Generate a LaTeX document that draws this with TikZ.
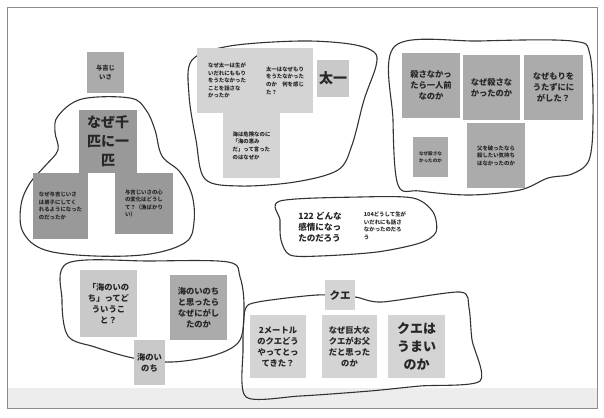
\documentclass[tikz,border=0pt]{standalone}
\usepackage{fontspec}
\setmainfont{Noto Sans CJK JP}
\begin{document}
\begin{tikzpicture}[x=1pt,y=-1pt,
  card/.style={inner sep=1pt, align=center, text=black!85, font=\bfseries},
  cardL/.style={card, align=left},
  blob/.style={draw=black!80, line width=1.1pt, line join=round},
  gDark/.style={fill=black!40},
  gMid/.style={fill=black!33},
  gLight/.style={fill=black!21},
  gPale/.style={fill=black!17},
  fBig/.append style={font=\bfseries\fontsize{14}{19}\selectfont},
  fMed/.append style={font=\bfseries\fontsize{8.3}{11}\selectfont},
  fSm/.append style={font=\bfseries\fontsize{5.4}{7.6}\selectfont},
  fTiny/.append style={font=\bfseries\fontsize{4.6}{6.4}\selectfont}
]
\useasboundingbox (0,0) rectangle (604,417);
\fill[white] (0,0) rectangle (604,417);
% screen frame
\fill[black!7] (7,388) rectangle (597,408);
\draw[black!45, line width=0.8pt] (7,7) rectangle (597,408);

% ---- blobs ----
\draw[blob] plot[smooth cycle, tension=0.6] coordinates {
  (58,116) (82,99) (130,98) (146,110) (155,130) (162,156) (180,172)
  (192,195) (194,222) (186,242) (150,254) (95,256) (45,250) (23,232)
  (21,205) (30,183) (45,166) (58,150) (55,132)};
\draw[blob] plot[smooth cycle, tension=0.55] coordinates {
  (192,60) (230,46) (300,41) (350,44) (374,52) (376,66) (364,100)
  (352,145) (338,170) (295,182) (240,186) (205,179) (196,140) (189,95)};
\draw[blob] plot[smooth cycle, tension=0.55] coordinates {
  (395,46) (480,41) (572,41) (590,55) (593,120) (589,160) (572,174)
  (548,178) (520,190) (470,195) (420,191) (398,185) (393,120)};
\draw[blob] plot[smooth cycle, tension=0.5] coordinates {
  (280,201) (360,197) (413,198) (433,212) (436,232) (420,243)
  (377,252) (320,256) (290,255) (281,240) (280,220)};
\draw[blob] plot[smooth cycle, tension=0.55] coordinates {
  (68,263) (150,261) (228,262) (240,277) (244,305) (240,340)
  (215,355) (172,362) (133,358) (95,347) (68,336) (62,300)};
\draw[blob] plot[smooth cycle, tension=0.45] coordinates {
  (258,302) (317,295) (355,297) (382,302) (460,292) (469,308)
  (472,340) (480,381) (420,386) (370,391) (300,396) (246,397)
  (243,350) (245,310)};

% ---- left group ----
\node[card, gMid, fSm, font=\bfseries\fontsize{6.3}{8.5}\selectfont,
  minimum width=37pt, minimum height=41pt] (yokichi) at (105.5,72.5) {与吉じ\\いさ};
\node[card, gDark, fBig, minimum width=58pt, minimum height=63pt] (senbiki) at (108,141.5) {なぜ千\\匹に一\\匹};
\node[cardL, gDark, fSm, minimum width=55pt, minimum height=66pt] (deshi) at (60.5,206) {なぜ与吉じいさ\\は弟子にしてく\\れるようになった\\のだったか};
\node[cardL, gDark, fSm, minimum width=58pt, minimum height=61pt] (kokoro) at (144,203.5) {与吉じいさの心\\の変化はどうし\\て？（漁ばかり\\い）};

% ---- middle top group ----
\node[cardL, gPale, fSm, minimum width=60pt, minimum height=65pt] (why1) at (227,80.5) {なぜ太一は生が\\いだれにももり\\をうたなかった\\ことを話さな\\かったか};
\node[cardL, gPale, fSm, minimum width=56pt, minimum height=65pt] (why2) at (285,80.5) {太一はなぜもり\\をうたなかった\\のか　何を感じ\\た？};
\node[cardL, gPale, fSm, minimum width=57pt, minimum height=65pt] (umi0) at (251.5,145.5) {海は危険なのに\\「海の恵み\\だ」って言った\\のはなぜか};
\node[card, gLight, fBig, minimum width=32pt, minimum height=37pt] (taichi) at (333,78.5) {太一};

% ---- right group ----
\node[card, gMid, fMed, minimum width=58pt, minimum height=65pt] (kor1) at (431,85.5) {殺さなかっ\\たら一人前\\なのか};
\node[card, gMid, fMed, minimum width=57pt, minimum height=65pt] (kor2) at (491.5,87.5) {なぜ殺さな\\かったのか};
\node[card, gMid, fMed, minimum width=59pt, minimum height=65pt] (mori) at (553.5,87.5) {なぜもりを\\うたずにに\\がした？};
\node[card, gMid, fTiny, minimum width=35pt, minimum height=40pt] (kor3) at (430.5,157) {なぜ殺さな\\かったのか};
\node[card, gMid, fSm, minimum width=58pt, minimum height=65pt] (chichi) at (496,155.5) {父を破ったなら\\殺したい気持ち\\はなかったのか};

% ---- middle blob texts ----
\node[cardL, font=\bfseries\fontsize{8.6}{11.2}\selectfont] (t122) at (320,227) {122 どんな\\感情になっ\\たのだろう};
\node[cardL, fSm] (t104) at (385,226) {104どうして生が\\いだれにも話さ\\なかったのだろ\\う};

% ---- bottom left group ----
\node[card, gLight, fMed, minimum width=57pt, minimum height=67pt] (umi1) at (108.5,303.5) {「海のいの\\ち」ってど\\ういうこ\\と？};
\node[card, gMid, fMed, minimum width=57pt, minimum height=65pt] (umi2) at (198.5,307.5) {海のいのち\\と思ったら\\なぜにがし\\たのか};
\node[card, gLight, fMed, minimum width=31pt, minimum height=45pt] (umi3) at (149.5,362.5) {海のい\\のち};

% ---- bottom right group ----
\node[card, gPale, font=\bfseries\fontsize{10.5}{13}\selectfont, minimum width=30pt, minimum height=30pt] (kue) at (340,295) {クエ};
\node[card, gPale, fMed, minimum width=56pt, minimum height=63pt] (kue1) at (278,346.5) {2メートル\\のクエどう\\やってとっ\\てきた？};
\node[card, gPale, fMed, minimum width=55pt, minimum height=63pt] (kue2) at (349.5,346.5) {なぜ巨大な\\クエがお父\\だと思った\\のか};
\node[card, gPale, font=\bfseries\fontsize{13}{18}\selectfont, minimum width=57pt, minimum height=63pt] (kue3) at (416.5,346.5) {クエは\\うまい\\のか};
\end{tikzpicture}
\end{document}
